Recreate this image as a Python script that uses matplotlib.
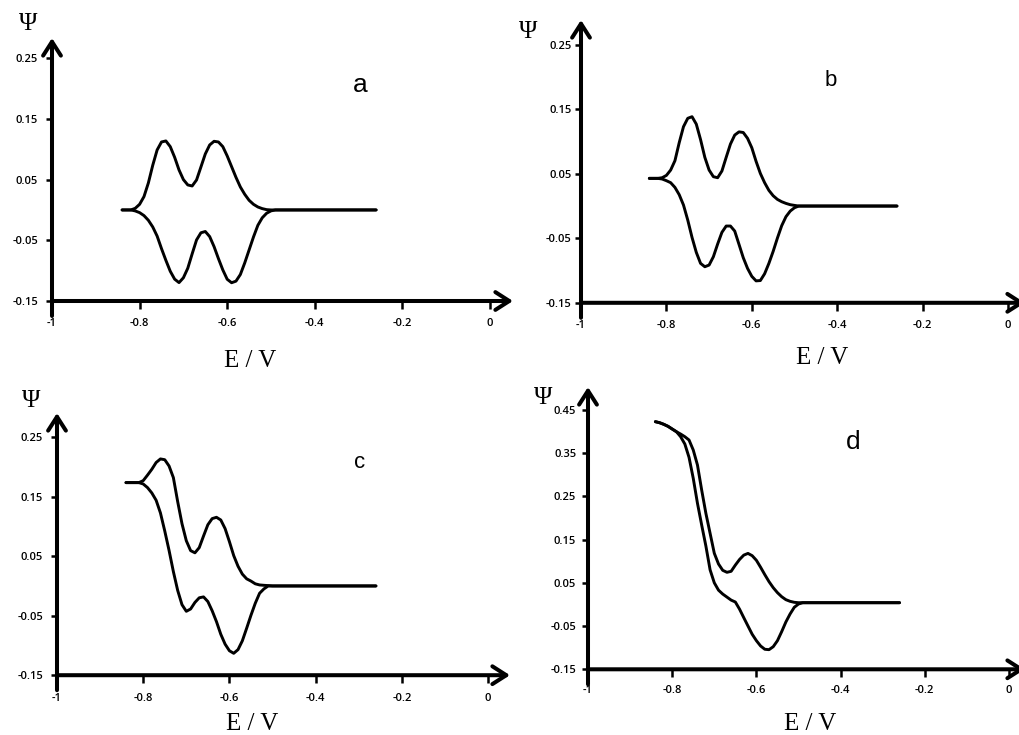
import matplotlib
matplotlib.use("Agg")
import matplotlib.pyplot as plt

# ---------------- data ----------------
E = [-0.84, -0.83, -0.82, -0.81, -0.80, -0.79, -0.78, -0.77, -0.76, -0.75,
     -0.74, -0.73, -0.72, -0.71, -0.70, -0.69, -0.68, -0.67, -0.66, -0.65,
     -0.64, -0.63, -0.62, -0.61, -0.60, -0.59, -0.58, -0.57, -0.56, -0.55,
     -0.54, -0.53, -0.52, -0.51, -0.50, -0.49, -0.48, -0.26]

a_upper = [0, 0, 0, 0.0027, 0.0093, 0.022, 0.0445, 0.0736, 0.0988, 0.112,
           0.1137, 0.1043, 0.0868, 0.0659, 0.050, 0.0412, 0.0395, 0.0494, 0.0708, 0.0923,
           0.1071, 0.1131, 0.112, 0.1043, 0.089, 0.0714, 0.0538, 0.0379, 0.0258, 0.0159,
           0.0093, 0.0049, 0.0022, 0.0005, 0, 0, 0, 0]
a_lower = [0, 0, 0, -0.0016, -0.0044, -0.0093, -0.017, -0.028, -0.043, -0.0637,
           -0.083, -0.101, -0.114, -0.1197, -0.1117, -0.096, -0.0723, -0.0494, -0.0376, -0.0355,
           -0.0439, -0.0604, -0.0802, -0.0988, -0.1142, -0.1199, -0.1173, -0.1064, -0.0873, -0.0659,
           -0.0445, -0.0253, -0.0129, -0.0054, -0.0015, 0, 0, 0]

b_upper = [0.0429, 0.0429, 0.0429, 0.0439, 0.0475, 0.0558, 0.0703, 0.0982, 0.123, 0.136,
           0.1385, 0.127, 0.103, 0.0755, 0.0558, 0.0455, 0.0439, 0.0543, 0.0755, 0.0961,
           0.110, 0.115, 0.114, 0.105, 0.0904, 0.0693, 0.0506, 0.0362, 0.0243, 0.016,
           0.0103, 0.0067, 0.0041, 0.0021, 0.001, 0, 0, 0]
b_lower = [0.0429, 0.0429, 0.0429, 0.0419, 0.0393, 0.0362, 0.0289, 0.0176, 0.0016, -0.0217,
           -0.0486, -0.0718, -0.0889, -0.0941, -0.0915, -0.0786, -0.0589, -0.0408, -0.031, -0.031,
           -0.0388, -0.0594, -0.0801, -0.0966, -0.109, -0.116, -0.1155, -0.105, -0.0889, -0.0703,
           -0.0496, -0.0305, -0.0165, -0.0078, -0.0026, 0, 0, 0]

c_upper = [0.1737, 0.1737, 0.1737, 0.1737, 0.177, 0.1863, 0.1961, 0.2075, 0.2135, 0.2122,
           0.2016, 0.1821, 0.1417, 0.1046, 0.076, 0.0594, 0.0557, 0.0644, 0.084, 0.1029,
           0.1132, 0.1154, 0.1109, 0.0964, 0.0745, 0.051, 0.0331, 0.0199, 0.012, 0.0082,
           0.0036, 0.0017, 0.0011, 0.0006, 0, 0, 0, 0]
c_lower = [0.1737, 0.1737, 0.1737, 0.1737, 0.1714, 0.1653, 0.1563, 0.144, 0.1227, 0.0924,
           0.0597, 0.0241, -0.0075, -0.0315, -0.0426, -0.0387, -0.0277, -0.0199, -0.0184, -0.0262,
           -0.0417, -0.06, -0.0812, -0.0978, -0.1089, -0.1132, -0.107, -0.0922, -0.0711, -0.0493,
           -0.0291, -0.0123, -0.005, 0, 0, 0, 0, 0]

d_upper = [0.4226, 0.4202, 0.4165, 0.4119, 0.4056, 0.3994, 0.394, 0.3879, 0.3802, 0.3571,
           0.3224, 0.2646, 0.2107, 0.1645, 0.1183, 0.0935, 0.0789, 0.0743, 0.0766, 0.091,
           0.104, 0.114, 0.118, 0.1127, 0.102, 0.0859, 0.0688, 0.0526, 0.0387, 0.0272,
           0.0179, 0.011, 0.0072, 0.0049, 0.004, 0.004, 0.004, 0.004]
d_lower = [0.4226, 0.4202, 0.4165, 0.4119, 0.4056, 0.3994, 0.3879, 0.371, 0.340, 0.2916,
           0.2339, 0.1837, 0.1351, 0.080, 0.050, 0.033, 0.024, 0.017, 0.010, 0.0056,
           -0.011, -0.0306, -0.0499, -0.069, -0.0838, -0.0961, -0.1037, -0.1046, -0.0977, -0.0838,
           -0.063, -0.0406, -0.0221, -0.0066, 0.001, 0.004, 0.004, 0.004]

x_ticks = [-1, -0.8, -0.6, -0.4, -0.2, 0]
x_ticklabels = ["-1", "-0.8", "-0.6", "-0.4", "-0.2", "0"]
y_ticks_abc = [-0.15, -0.05, 0.05, 0.15, 0.25]
y_ticklabels_abc = ["-0.15", "-0.05", "0.05", "0.15", "0.25"]
y_ticks_d = [-0.15, -0.05, 0.05, 0.15, 0.25, 0.35, 0.45]
y_ticklabels_d = ["-0.15", "-0.05", "0.05", "0.15", "0.25", "0.35", "0.45"]

panel_letters = ["a", "b", "c", "d"]
y_symbol = "Ψ"
x_title = "E / V"

# ---------------- layout ----------------
W, H = 1020, 735
fig = plt.figure(figsize=(W / 100, H / 100), dpi=100)

panels = [
    dict(box=(52, 513, 38, 301), xmax=0.0525, ymax=0.2833, up=a_upper, lo=a_lower,
         yt=y_ticks_abc, ytl=y_ticklabels_abc, ypad=5.5, xpad=7,
         letter=(360, 85, 19), psi=(28, 24), ev=(250, 361)),
    dict(box=(581, 1025, 20, 302.8), xmax=0.0398, ymax=0.2884, up=b_upper, lo=b_lower,
         yt=y_ticks_abc, ytl=y_ticklabels_abc, ypad=2.5, xpad=7,
         letter=(831, 80, 16), psi=(528, 32), ev=(822, 358)),
    dict(box=(57, 510, 413, 675.2), xmax=0.051, ymax=0.2907, up=c_upper, lo=c_lower,
         yt=y_ticks_abc, ytl=y_ticklabels_abc, ypad=5.5, xpad=7,
         letter=(360, 462, 16), psi=(31, 401), ev=(252, 724)),
    dict(box=(588, 1025, 387, 669.3), xmax=0.038, ymax=0.5028, up=d_upper, lo=d_lower,
         yt=y_ticks_d, ytl=y_ticklabels_d, ypad=4, xpad=6,
         letter=(853, 442, 19), psi=(543, 398), ev=(810, 724)),
]

serif = ["Liberation Serif", "DejaVu Serif"]
sans = ["Liberation Sans", "DejaVu Sans"]
tickfont = dict(fontsize=8, family=["Open Sans", "DejaVu Sans"], fontweight="semibold")

for p, letter in zip(panels, panel_letters):
    l, r, t, b = p["box"]
    ax = fig.add_axes([l / W, 1 - b / H, (r - l) / W, (b - t) / H])
    ax.set_xlim(-1, p["xmax"])
    ax.set_ylim(-0.15, p["ymax"])
    for s in ax.spines.values():
        s.set_visible(False)
    ax.patch.set_alpha(0)

    ax.plot(E, p["up"], color="black", lw=2.1, solid_joinstyle="round", solid_capstyle="round")
    ax.plot(E, p["lo"], color="black", lw=2.1, solid_joinstyle="round", solid_capstyle="round")

    ax.set_xticks(x_ticks)
    ax.set_xticklabels(x_ticklabels, **tickfont)
    ax.set_yticks(p["yt"])
    ax.set_yticklabels(p["ytl"], **tickfont)
    ax.tick_params(axis="x", direction="out", length=5.5, width=1.8, pad=p["xpad"])
    ax.tick_params(axis="y", direction="out", length=4.5, width=1.8, pad=p["ypad"])

    ppu_y = (b - t) / (p["ymax"] + 0.15)
    ybot_ext = -0.15 - 15 / ppu_y
    arrow = dict(arrowstyle="->,head_length=0.5,head_width=0.32", lw=2.9, color="black",
                 shrinkA=0, shrinkB=0, mutation_scale=20)
    ax.annotate("", xy=(-1, p["ymax"]), xytext=(-1, ybot_ext), arrowprops=arrow,
                annotation_clip=False)
    ax.annotate("", xy=(p["xmax"], -0.15), xytext=(-1, -0.15), arrowprops=arrow,
                annotation_clip=False)

    lx, ly, ls = p["letter"]
    fig.text(lx / W, 1 - ly / H, letter, fontsize=ls, family=sans, ha="center", va="center")
    px_, py_ = p["psi"]
    fig.text(px_ / W, 1 - py_ / H, y_symbol, fontsize=18, family=serif, ha="center", va="center")
    ex, ey = p["ev"]
    fig.text(ex / W, 1 - ey / H, x_title, fontsize=18, family=serif, ha="center", va="center")

fig.savefig("out.png", dpi=100)
